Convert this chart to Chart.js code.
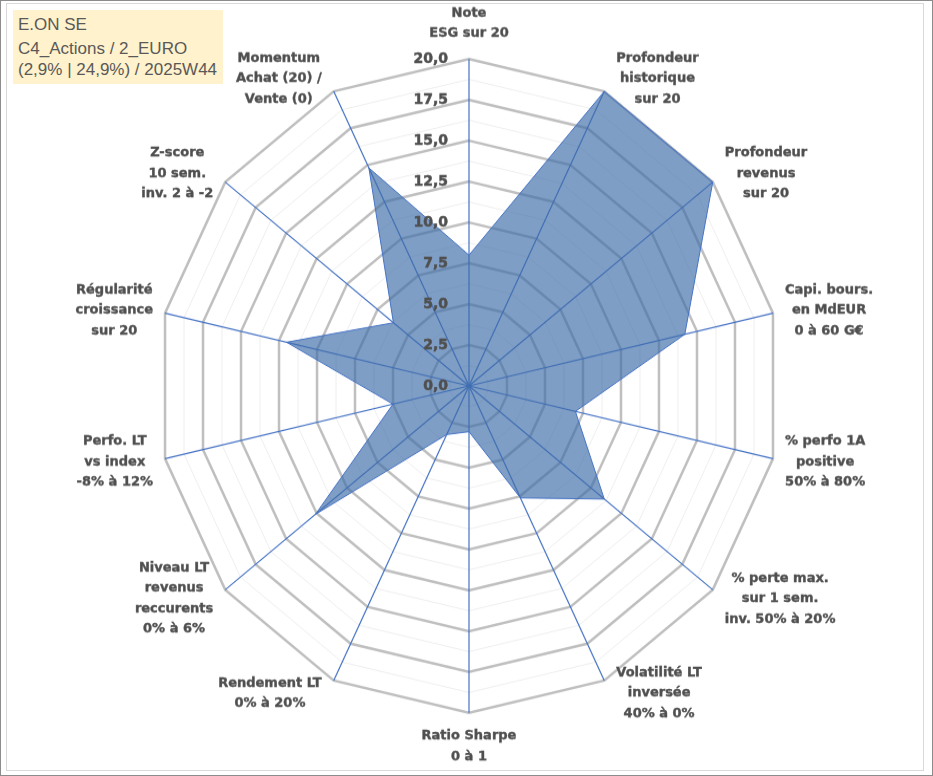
<!DOCTYPE html>
<html>
<head>
<meta charset="utf-8">
<script src="https://cdn.jsdelivr.net/npm/chart.js@4.4.1/dist/chart.umd.min.js"></script>
<style>
  body { margin: 0; background: #fff; }
  .page { position: relative; width: 933px; height: 776px; overflow: hidden; }
  .stretch { position: absolute; left: 0; top: 0; width: 933px; height: 740px; transform: scaleY(1.04865); transform-origin: 0 0; }
  .frameOuter { position: absolute; left: 0; top: 0; width: 931px; height: 774px; border: 1px solid #8c8c8c; pointer-events: none; }
  .frameInner { position: absolute; left: 6px; top: 3px; width: 916px; height: 766px; border: 1px solid #d9d9d9; pointer-events: none; }
  .title { position: absolute; left: 13px; top: 10px; width: 210px; height: 74px; background: #fff2cc;
           font-family: "Liberation Sans", Arial, sans-serif; font-size: 17px; color: #595959; }
  .title span { position: absolute; left: 5px; line-height: 20px; white-space: nowrap; }
</style>
</head>
<body>
<div class="page">
  <div class="stretch"><canvas id="radar"></canvas></div>
  <div class="title">
    <span style="top:5px">E.ON SE</span>
    <span style="top:29px">C4_Actions / 2_EURO</span>
    <span style="top:50px">(2,9% | 24,9%) / 2025W44</span>
  </div>
  <div class="frameOuter"></div>
  <div class="frameInner"></div>
</div>
<script>
const categories = [
  ['Note', 'ESG sur 20'],
  ['Profondeur', 'historique', 'sur 20'],
  ['Profondeur', 'revenus', 'sur 20'],
  ['Capi. bours.', 'en MdEUR', '0 à 60 G€'],
  ['% perfo 1A', 'positive', '50% à 80%'],
  ['% perte max.', 'sur 1 sem.', 'inv. 50% à 20%'],
  ['Volatilité LT', 'inversée', '40% à 0%'],
  ['Ratio Sharpe', '0 à 1'],
  ['Rendement LT', '0% à 20%'],
  ['Niveau LT', 'revenus', 'reccurents', '0% à 6%'],
  ['Perfo. LT', 'vs index', '-8% à 12%'],
  ['Régularité', 'croissance', 'sur 20'],
  ['Z-score', '10 sem.', 'inv. 2 à -2'],
  ['Momentum', 'Achat (20) /', 'Vente (0)']
]

const scores = [8.0, 20, 20, 14.2, 7.0, 11.1, 7.6, 2.8, 3.3, 12.6, 5.0, 12.0, 6.2, 14.8]

const tickValues = [0, 2.5, 5, 7.5, 10, 12.5, 15, 17.5, 20]

const textColor = '#4f4f4f'
const lineH = 19.5

function boldText(ctx, t, x, y) {
  ctx.strokeText(t, x, y)
  ctx.fillText(t, x, y)
}

// tick values drawn left of the vertical axis, like Excel does
const tickLabels = {
  id: 'tickLabels',
  afterDatasetsDraw(chart) {
    const scale = chart.scales.r
    const ctx = chart.ctx
    ctx.save()
    ctx.font = 'bold 14px "DejaVu Sans"'
    ctx.fillStyle = textColor
    ctx.strokeStyle = textColor
    ctx.lineWidth = 0.5
    ctx.textAlign = 'right'
    ctx.textBaseline = 'middle'
    tickValues.forEach(v => {
      const y = scale.yCenter - scale.getDistanceFromCenterForValue(v)
      boldText(ctx, v.toFixed(1).replace('.', ','), scale.xCenter - 21, y)
    })
    ctx.restore()
  }
}

// axis names, lines centred in their block
const axisLabels = {
  id: 'axisLabels',
  afterDraw(chart) {
    const scale = chart.scales.r
    const ctx = chart.ctx
    ctx.save()
    ctx.font = 'bold 13px "DejaVu Sans"'
    ctx.fillStyle = textColor
    ctx.strokeStyle = textColor
    ctx.lineWidth = 0.4
    ctx.textAlign = 'center'
    ctx.textBaseline = 'middle'
    categories.forEach((lines, i) => {
      const p = scale.getPointPosition(i, scale.drawingArea)
      const dx = Math.cos(p.angle)
      const dy = Math.sin(p.angle)
      const n = lines.length
      const w = Math.max(...lines.map(t => ctx.measureText(t).width))
      let cx, cy
      if (Math.abs(dx) < 0.01) {
        cx = p.x
        cy = dy < 0 ? p.y - 24.5 - (n - 1) * lineH / 2 : p.y + 22 + (n - 1) * lineH / 2
      } else {
        cx = p.x + Math.sign(dx) * (w / 2 + 12)
        cy = p.y + 13.3 * dy
      }
      lines.forEach((t, k) => boldText(ctx, t, cx, cy + (k - (n - 1) / 2) * lineH))
    })
    ctx.restore()
  }
}

const isMajor = c => c.tick && Math.abs(c.tick.value % 2.5) < 0.001

new Chart(document.getElementById('radar'), {
  type: 'radar',
  data: {
    labels: categories,
    datasets: [{
      data: scores,
      backgroundColor: 'rgba(60,108,168,0.66)',
      borderColor: '#4472C4',
      borderWidth: 1,
      pointRadius: 0,
      fill: true
    }]
  },
  options: {
    responsive: true,
    maintainAspectRatio: false,
    animation: false,
    layout: { padding: { left: 156, right: 151, top: 56, bottom: 58 } },
    plugins: {
      legend: { display: false },
      tooltip: { enabled: false }
    },
    scales: {
      r: {
        min: 0,
        max: 20,
        ticks: { stepSize: 1.25, display: false },
        grid: {
          color: c => isMajor(c) ? '#BFBFBF' : '#EEEEEE',
          lineWidth: c => isMajor(c) ? 2.5 : 1
        },
        angleLines: { color: '#4472C4', lineWidth: 1.2 },
        pointLabels: {
          display: true,
          padding: 0,
          font: { size: 1 },
          color: 'rgba(0,0,0,0)',
          callback: () => ''
        }
      }
    }
  },
  plugins: [tickLabels, axisLabels]
})
</script>
</body>
</html>
